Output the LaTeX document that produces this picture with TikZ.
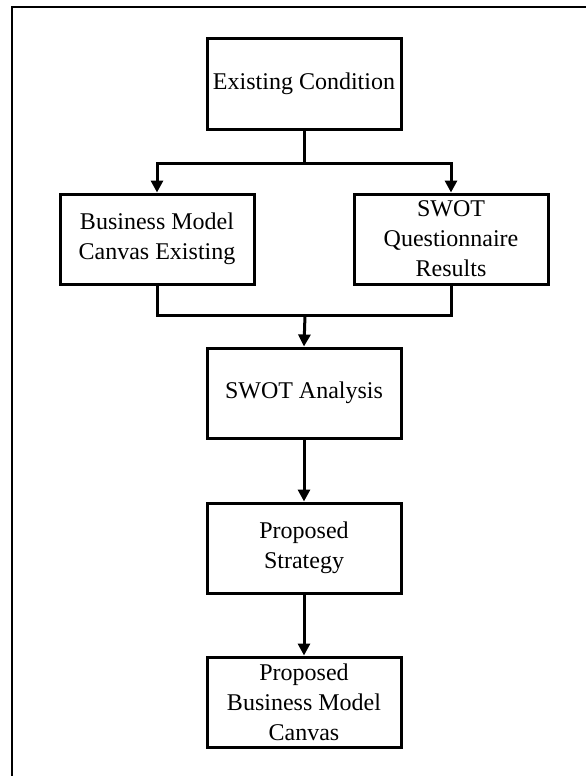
\documentclass[tikz,border=0pt]{standalone}
\usepackage{fontspec}
\setmainfont{Liberation Serif}
\usetikzlibrary{arrows.meta}

\begin{document}
\begin{tikzpicture}[x=1pt,y=1pt]
\tikzstyle{stepbox}=[draw=black, line width=3pt, minimum width=194pt, minimum height=90pt, align=center, inner sep=2pt, font=\fontsize{24}{30}\selectfont]
\tikzstyle{link}=[black, line width=3pt]
\tikzstyle{arr}=[link, -{Triangle[length=12pt,width=12pt]}]
\useasboundingbox (0,0) rectangle (586,-776);
\draw [black, line width=2pt] (11.5,-776) -- (11.5,-7.5) -- (586,-7.5);
\node [stepbox] (cond) at (304,-84) {Existing Condition};
\node [stepbox] (bmc) at (157,-239) {Business Model\\Canvas Existing};
\node [stepbox] (swq) at (451,-239) {SWOT\\Questionnaire\\Results};
\node [stepbox] (swa) at (304,-393) {SWOT Analysis};
\node [stepbox] (strat) at (304,-548) {Proposed\\Strategy};
\node [stepbox] (pbmc) at (304,-702) {Proposed\\Business Model\\Canvas};
\coordinate (split) at (304,-163);
\coordinate (merge) at (305,-315);
\draw [link] (cond.south) -- (split);
\draw [arr] (split) -| (bmc.north);
\draw [arr] (split) -| (swq.north);
\draw [link] (bmc.south) |- (merge) -| (swq.south);
\draw [arr] (merge) -- (swa.north);
\draw [arr] (swa.south) -- (strat.north);
\draw [arr] (strat.south) -- (pbmc.north);
\end{tikzpicture}
\end{document}
